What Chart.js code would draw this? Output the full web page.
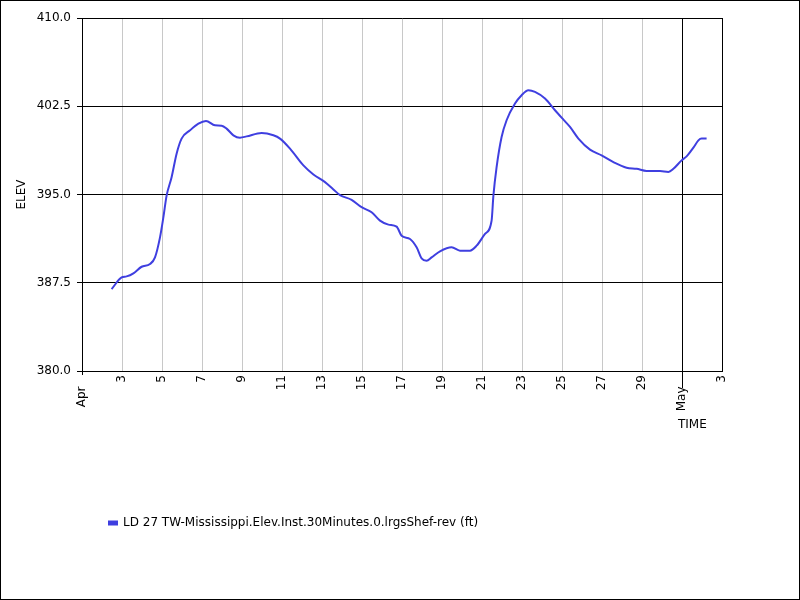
<!DOCTYPE html>
<html>
<head>
<meta charset="utf-8">
<script src="https://cdn.jsdelivr.net/npm/chart.js@4/dist/chart.umd.min.js"></script>
<style>
  html, body { margin: 0; padding: 0; background: #fff; }
  #wrap { width: 800px; height: 600px; }
</style>
</head>
<body>
<div id="wrap"><canvas id="chart" width="800" height="600"></canvas></div>
<script>
// Dias desde el 1 de abril (Apr 1 = 1, May 1 = 31)
const days = [
    2.48, 2.98, 3.23, 3.57, 3.98, 4.4, 4.65, 4.9, 5.07, 5.23, 5.48, 5.73, 5.98,
    6.4, 6.82, 7.2, 7.65, 7.98, 8.23, 8.57, 8.9, 9.23, 9.98, 10.57, 10.9, 11.4,
    12.07, 12.57, 13.15, 13.57, 13.9, 14.48, 14.98, 15.48, 15.9, 16.32, 16.73,
    16.98, 17.4, 17.73, 17.98, 18.23, 18.48, 18.9, 19.48, 19.9, 20.4, 20.73,
    21.15, 21.48, 21.57, 21.73, 21.98, 22.23, 22.65, 22.98, 23.32, 23.65, 24.15,
    24.65, 25.07, 25.4, 25.82, 26.4, 26.98, 27.57, 28.23, 28.73, 29.23, 29.9,
    30.32, 30.57, 30.98, 31.23, 31.57, 31.82, 31.98, 32.23
];
const elev = [
    386.96, 387.95, 388.04, 388.3, 388.86, 389.09, 389.66, 391.36, 393.07, 394.9, 396.47, 398.47, 399.75,
    400.45, 401.02, 401.25, 400.88, 400.85, 400.6, 400.03, 399.83, 399.94, 400.23, 400.03, 399.75, 398.9,
    397.47, 396.7, 396.05, 395.43, 394.95, 394.55, 393.92, 393.49, 392.78, 392.44, 392.27,
    391.5, 391.22, 390.51, 389.57, 389.38, 389.66, 390.17, 390.51, 390.23, 390.23, 390.65,
    391.65, 392.78, 394.9, 397.33, 399.89, 401.31, 402.73, 403.44, 403.86, 403.72, 403.15,
    402.16, 401.36, 400.74, 399.75, 398.81, 398.32, 397.75, 397.27, 397.18, 397.0, 397.0,
    396.92, 397.18, 397.9, 398.24, 398.98, 399.6, 399.75, 399.75
];
// Etiquetas de las marcas del eje X
const xTickLabels = { 1: 'Apr   ', 31: 'May   ', 33: '3' };
const seriesLabel = 'LD 27 TW-Mississippi.Elev.Inst.30Minutes.0.lrgsShef-rev (ft)';

const FONT = { family: 'DejaVu Sans', size: 12 };
const LINE_COLOR = '#3f3fe0';

// Marco exterior y marca larga de mayo
const extrasPlugin = {
    id: 'extras',
    afterDraw(chart) {
        const ctx = chart.ctx;
        const xs = chart.scales.x;
        const area = chart.chartArea;
        ctx.save();
        ctx.strokeStyle = '#000';
        ctx.lineWidth = 1;
        const mx = Math.round(xs.getPixelForValue(31)) + 0.5;
        ctx.beginPath();
        ctx.moveTo(mx, area.bottom);
        ctx.lineTo(mx, area.bottom + 17);
        ctx.stroke();
        ctx.strokeRect(0.5, 0.5, chart.width - 1, chart.height - 1);
        ctx.restore();
    }
};

const chart = new Chart(document.getElementById('chart'), {
    type: 'line',
    data: {
        datasets: [{
            label: seriesLabel,
            data: days.map((d, i) => ({ x: d, y: elev[i] })),
            borderColor: LINE_COLOR,
            backgroundColor: LINE_COLOR,
            borderWidth: 2,
            pointRadius: 0,
            cubicInterpolationMode: 'monotone',
            fill: false
        }]
    },
    options: {
        responsive: false,
        animation: false,
        layout: { padding: { left: 0, top: 18, right: 78, bottom: 61 } },
        plugins: {
            tooltip: { enabled: false },
            legend: {
                position: 'bottom',
                align: 'start',
                fullSize: false,
                labels: {
                    color: '#000',
                    font: FONT,
                    boxWidth: 8,
                    boxHeight: 3,
                    padding: 27
                }
            }
        },
        scales: {
            x: {
                type: 'linear',
                min: 1,
                max: 33,
                afterFit(scale) { scale.height = 119; },
                ticks: {
                    stepSize: 2,
                    minRotation: 90,
                    maxRotation: 90,
                    padding: 0,
                    color: '#000',
                    font: FONT,
                    autoSkip: false,
                    callback: (v) => xTickLabels[v] !== undefined ? xTickLabels[v] : String(v)
                },
                grid: {
                    color: (ctx) => (ctx.tick && (ctx.tick.value === 31 || ctx.tick.value === 33)) ? '#000' : '#c8c8c8',
                    tickColor: (ctx) => (ctx.tick && ctx.tick.value === 1) ? '#000' : 'rgba(0,0,0,0)',
                    tickLength: 4
                },
                border: { display: true, color: '#000' },
                title: {
                    display: true,
                    text: 'TIME    ',
                    align: 'end',
                    color: '#000',
                    font: FONT,
                    padding: { top: 0, bottom: 58 }
                }
            },
            y: {
                min: 380,
                max: 410,
                afterFit(scale) { scale.width = 82; },
                ticks: {
                    stepSize: 7.5,
                    padding: 6,
                    color: '#000',
                    font: FONT,
                    callback: (v) => v.toFixed(1)
                },
                grid: {
                    color: '#000',
                    tickColor: '#000',
                    tickLength: 5
                },
                border: { display: true, color: '#000' },
                title: {
                    display: true,
                    text: 'ELEV',
                    color: '#000',
                    font: FONT,
                    padding: { top: 15, bottom: 0 }
                }
            }
        }
    },
    plugins: [extrasPlugin]
});
</script>
</body>
</html>
